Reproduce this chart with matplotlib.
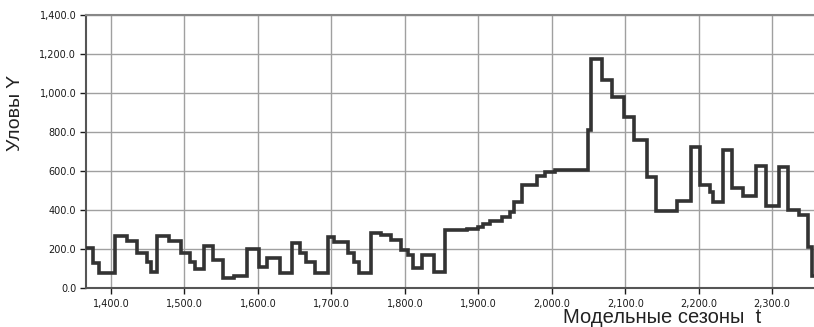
import matplotlib
matplotlib.use("Agg")
import matplotlib.pyplot as plt
from matplotlib.ticker import FuncFormatter, MultipleLocator

# Модельные сезоны (начало каждой ступени) и уловы
seasons = [1366, 1375, 1384, 1406, 1422, 1436, 1449, 1454, 1463, 1479,
           1495, 1508, 1514, 1526, 1539, 1553, 1567, 1585, 1601, 1612,
           1630, 1646, 1657, 1666, 1678, 1695, 1704, 1722, 1731, 1738,
           1754, 1768, 1781, 1795, 1804, 1811, 1824, 1840, 1855, 1884,
           1900, 1907, 1916, 1932, 1943, 1948, 1960, 1980, 1991, 2005,
           2050, 2053, 2068, 2082, 2098, 2112, 2129, 2142, 2170, 2189,
           2202, 2216, 2220, 2233, 2246, 2260, 2278, 2292, 2309, 2321,
           2336, 2349, 2354]
catches = [205, 128, 75, 265, 240, 178, 132, 84, 265, 240,
           178, 135, 96, 215, 143, 50, 64, 198, 109, 152,
           75, 232, 178, 135, 78, 263, 238, 178, 135, 75,
           280, 272, 246, 195, 169, 101, 169, 84, 297, 302,
           314, 328, 343, 366, 392, 443, 528, 574, 597, 603,
           810, 1173, 1065, 978, 878, 760, 571, 393, 446, 725,
           530, 494, 440, 708, 511, 472, 628, 419, 618, 398,
           374, 212, 60]
t_end = 2358

fig = plt.figure(figsize=(8.14, 3.27), dpi=100)
ax = fig.add_axes([0.1057, 0.1193, 0.8943, 0.8348])

ax.step(seasons + [t_end], catches + [catches[-1]], where="post",
        color="#333333", lw=2.6, solid_joinstyle="miter", zorder=3)

ax.set_xlim(1366, 2357)
ax.set_ylim(0, 1400)
ax.xaxis.set_major_locator(MultipleLocator(100))
ax.yaxis.set_major_locator(MultipleLocator(200))
fmt = FuncFormatter(lambda v, p: f"{v:,.1f}")
ax.xaxis.set_major_formatter(fmt)
ax.yaxis.set_major_formatter(fmt)

ax.grid(True, color="#a0a0a0", lw=1.0)
ax.tick_params(labelsize=7, colors="#1a1a1a", length=4, width=1, pad=3)
ax.tick_params(axis="x", pad=4)

for side in ["left", "bottom"]:
    ax.spines[side].set_color("#555555")
    ax.spines[side].set_linewidth(1.5)
ax.spines["top"].set_color("#888888")
ax.spines["top"].set_linewidth(1.5)
ax.spines["right"].set_visible(False)

fig.text(0.019, 0.654, "Уловы Y", rotation=90, ha="center", va="center",
         fontsize=14, family="Liberation Sans", color="#222222")
fig.text(0.813, 0.0, "Модельные сезоны  t", ha="center", va="bottom",
         fontsize=14.5, family="Liberation Sans", color="#222222")

fig.savefig("out.png", dpi=100)
